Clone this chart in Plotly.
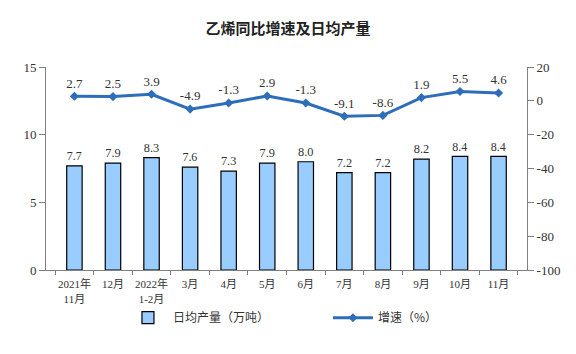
import plotly.graph_objects as go

categories = ["2021年<br>11月", "12月", "2022年<br>1-2月", "3月", "4月", "5月",
              "6月", "7月", "8月", "9月", "10月", "11月"]
output = [7.7, 7.9, 8.3, 7.6, 7.3, 7.9, 8.0, 7.2, 7.2, 8.2, 8.4, 8.4]
growth = [2.7, 2.5, 3.9, -4.9, -1.3, 2.9, -1.3, -9.1, -8.6, 1.9, 5.5, 4.6]
left_ticks = [0, 5, 10, 15]
right_ticks = [-100, -80, -60, -40, -20, 0, 20]

serif = "Liberation Serif, Noto Sans CJK SC, serif"
axis_col = "#808080"

fig = go.Figure()
fig.add_trace(go.Bar(
    x=categories, y=output, name="日均产量（万吨）",
    marker=dict(color="#99CCFF", line=dict(color="black", width=1.2)),
    width=0.4,
    text=[f"{v:.1f}" for v in output], textposition="outside",
    textfont=dict(family=serif, size=13, color="#333333"),
    cliponaxis=False,
))
fig.add_trace(go.Scatter(
    x=categories, y=growth, name="增速（%）", yaxis="y2",
    mode="lines+markers+text",
    line=dict(color="#2E6DB9", width=3),
    marker=dict(symbol="diamond", size=7, color="#2E6DB9"),
    text=[f"{v:.1f}" for v in growth], textposition="top center",
    textfont=dict(family=serif, size=13, color="#333333"),
    cliponaxis=False,
))

fig.update_layout(
    width=576, height=354,
    margin=dict(l=46, r=49, t=67, b=84),
    paper_bgcolor="white", plot_bgcolor="white",
    title=dict(text="<b>乙烯同比增速及日均产量</b>", x=0.5, xanchor="center", y=0.92, yanchor="middle",
               font=dict(family="Noto Sans CJK SC", size=15, color="#222222")),
    font=dict(family=serif, size=12, color="#222222"),
    xaxis=dict(type="category", showline=True, linecolor=axis_col, linewidth=1,
               ticks="outside", tickson="boundaries", tickcolor=axis_col, ticklen=4,
               tickangle=0, automargin=False, ticklabelstandoff=4,
               tickfont=dict(family=serif, size=11, color="#333333"),
               showgrid=False),
    yaxis=dict(range=[0, 15], tickvals=left_ticks, ticktext=[str(v) for v in left_ticks],
               showline=True, linecolor=axis_col, linewidth=1, automargin=False,
               ticks="outside", tickcolor=axis_col, ticklen=6, showgrid=False,
               zeroline=False, tickfont=dict(family=serif, size=13, color="#333333")),
    yaxis2=dict(range=[-100, 20], tickvals=right_ticks, ticktext=[str(v) for v in right_ticks],
                overlaying="y", side="right", automargin=False,
                showline=True, linecolor=axis_col, linewidth=1,
                ticks="outside", tickcolor=axis_col, ticklen=6, showgrid=False,
                zeroline=False, tickfont=dict(family=serif, size=13, color="#333333")),
    legend=dict(orientation="h", x=0.16, xanchor="left", y=-0.235, yanchor="middle",
                bgcolor="rgba(0,0,0,0)",
                font=dict(family="Noto Sans CJK SC", size=12, color="#333333"),
                itemwidth=40, entrywidth=150),
    showlegend=True,
)

fig.write_html("out.html")
